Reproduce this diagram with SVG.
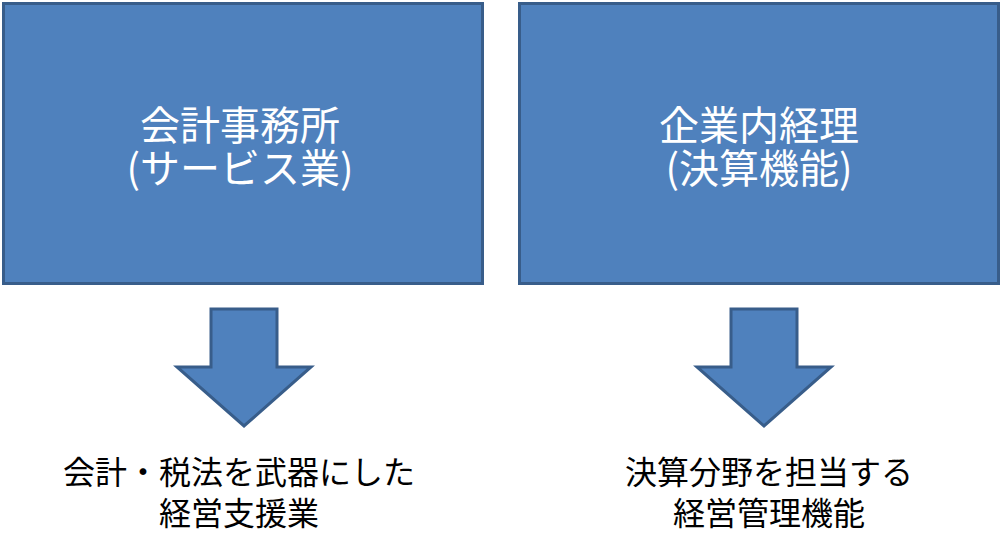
<svg xmlns="http://www.w3.org/2000/svg" width="1002" height="547" viewBox="0 0 1002 547">
<style>
.box{fill:#4f81bd;stroke:#385d8a;stroke-width:3}
.arr{fill:#4f81bd;stroke:#385d8a;stroke-width:3;stroke-linejoin:miter}
.t{font-family:"Noto Sans CJK JP","Noto Sans CJK SC",sans-serif;text-anchor:middle}
.w{fill:#ffffff;font-size:40px}
.b{fill:#000000;font-size:32px}
</style>
<rect width="1002" height="547" fill="#ffffff"/>
<g id="node-kaikei">
<rect class="box" x="3.5" y="3.5" width="479" height="280"/>
<text class="t w" x="240" y="140">会計事務所</text>
<text class="t w" x="240" y="183">(サービス業)</text>
</g>
<g id="node-kigyo">
<rect class="box" x="519.5" y="3.5" width="479" height="280"/>
<text class="t w" x="759" y="140">企業内経理</text>
<text class="t w" x="759" y="183">(決算機能)</text>
</g>
<g id="connectors">
<polygon class="arr" points="211,309 277,309 277,367 311,367 244,426 177,367 211,367"/>
<polygon class="arr" points="731,309 797,309 797,367 831,367 764,426 697,367 731,367"/>
</g>
<g id="label-left">
<text class="t b" x="239" y="484">会計・税法を武器にした</text>
<text class="t b" x="239" y="525">経営支援業</text>
</g>
<g id="label-right">
<text class="t b" x="769" y="484">決算分野を担当する</text>
<text class="t b" x="769" y="525">経営管理機能</text>
</g>
</svg>
